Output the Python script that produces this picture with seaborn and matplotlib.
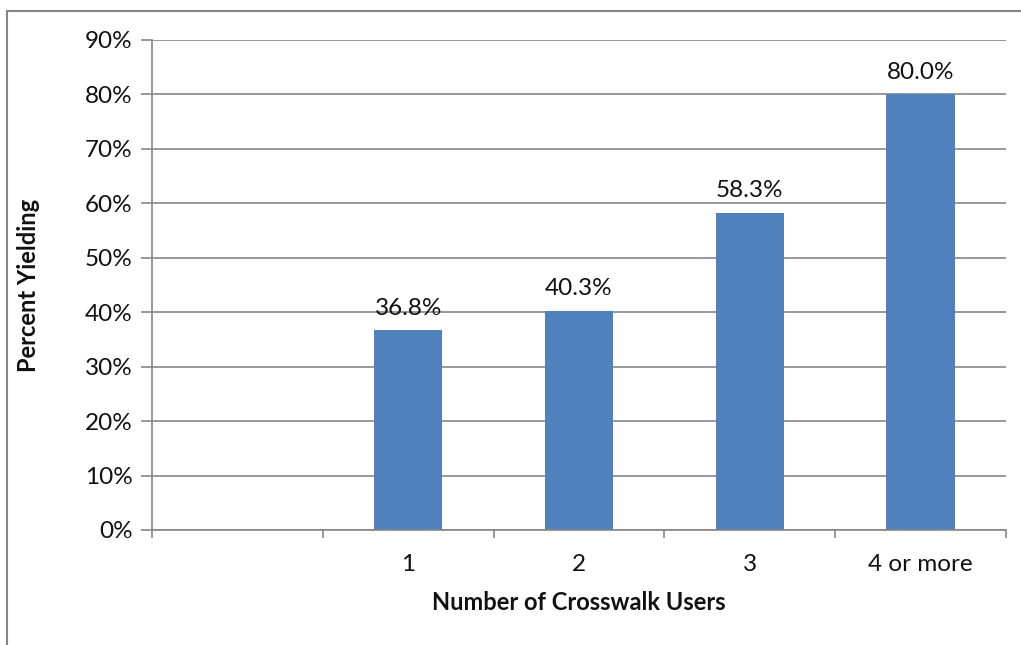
import matplotlib
matplotlib.use("Agg")
import pandas as pd
import seaborn as sns
from matplotlib import pyplot as plt
from matplotlib.patches import Rectangle
from matplotlib.ticker import FuncFormatter, FixedLocator

categories = ["", "1", "2", "3", "4 or more"]
bar_cats = ["1", "2", "3", "4 or more"]
yield_pct = [36.8, 40.3, 58.3, 80.0]

shuju = pd.DataFrame({"users": bar_cats, "pct": yield_pct})

sns.set_theme(style="white")
plt.rcParams['font.family'] = ['Lato', 'DejaVu Sans']

fig = plt.figure(figsize=(10.21, 6.45), dpi=100)
ax = fig.add_axes([152/1021, 1-530/645, (1006-152)/1021, (530-40)/645])

sns.barplot(data=shuju, x="users", y="pct", order=categories, color="#4F81BD",
            width=0.4, saturation=1, ax=ax, errorbar=None, linewidth=0)

for c in ax.containers:
    ax.bar_label(c, labels=[f"{v:.1f}%" for v in yield_pct], padding=8, fontsize=17.5, color="#111111")

ax.set_ylim(0, 90)
ax.set_yticks(range(0, 91, 10))
ax.yaxis.set_major_formatter(FuncFormatter(lambda v, p: f"{int(v)}%"))
ax.set_xlim(-0.5, 4.5)
ax.xaxis.set_major_locator(FixedLocator([i - 0.5 for i in range(6)]))
ax.xaxis.set_minor_locator(FixedLocator(range(5)))
ax.set_xticklabels([], minor=False)
ax.set_xticklabels(categories, minor=True)
ax.tick_params(axis="x", which="major", length=6, width=1.2, color="#868686", direction="out", bottom=True)
ax.tick_params(axis="x", which="minor", length=0, pad=17, labelsize=17.5, labelcolor="#111111")
ax.tick_params(axis="y", length=8, width=1.2, color="#868686", direction="out", left=True,
               labelsize=17.5, pad=6, labelcolor="#111111")

ax.grid(axis="y", color="#868686", linewidth=1.2)
ax.set_axisbelow(True)
for s in ["top", "right"]:
    ax.spines[s].set_visible(False)
for s in ["left", "bottom"]:
    ax.spines[s].set_color("#868686")
    ax.spines[s].set_linewidth(1.2)

ax.set_xlabel("Number of Crosswalk Users", fontsize=17, fontweight="bold", labelpad=12, color="#111111")
ax.set_ylabel("Percent Yielding", fontsize=17, fontweight="bold", labelpad=32, color="#111111")

fig.patches.append(Rectangle((7/1021, -0.1), 1.2, 1.1 - 11/645, transform=fig.transFigure,
                             fill=False, edgecolor="#868686", linewidth=1.5))

fig.savefig("out.png", dpi=100)
